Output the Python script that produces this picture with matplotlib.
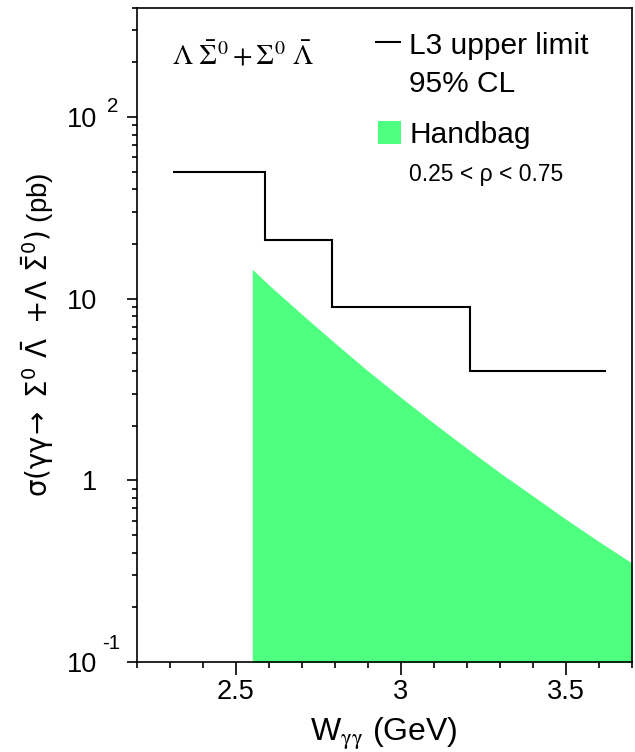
import matplotlib
matplotlib.use("Agg")
import matplotlib.pyplot as plt
import matplotlib.transforms as mtransforms
from matplotlib.patches import Rectangle
from matplotlib.ticker import MultipleLocator, LogLocator, NullFormatter

plt.rcParams["font.family"] = ["Liberation Sans", "DejaVu Sans"]
plt.rcParams["mathtext.fontset"] = "custom"
plt.rcParams["mathtext.rm"] = "Liberation Sans"
plt.rcParams["mathtext.it"] = "Liberation Sans:italic"
plt.rcParams["mathtext.bf"] = "Liberation Sans:bold"

# L3 upper limit (95% CL), bin edges in W and limit per bin in pb
l3_edges = [2.31, 2.59, 2.79, 3.21, 3.62]
l3_limit = [50.0, 21.0, 9.0, 4.0]

# handbag prediction, 0.25 < rho < 0.75
hb_w = [2.55, 2.6, 2.7, 2.8, 2.9, 3.0, 3.1, 3.2, 3.3, 3.4, 3.5, 3.6, 3.7]
hb_sigma = [14.5, 11.9, 8.2, 5.7, 4.0, 2.86, 2.06, 1.50, 1.10, 0.82, 0.61, 0.46, 0.35]

green = "#4eff80"

fig = plt.figure(figsize=(6.35, 7.52), dpi=100)
ax = fig.add_axes([136.7 / 635, 1 - 662 / 752, (632 - 136.7) / 635, (662 - 7.5) / 752])

ax.fill_between(hb_w, 1e-2, hb_sigma, color=green, linewidth=0)
ax.stairs(l3_limit, l3_edges, baseline=None, color="black", linewidth=1.5)

ax.set_yscale("log")
ax.set_xlim(2.2, 3.7)
ax.set_ylim(0.1, 400)

for s in ax.spines.values():
    s.set_linewidth(1.2)

ax.xaxis.set_minor_locator(MultipleLocator(0.1))
ax.set_xticks([2.5, 3.0, 3.5])
ax.set_xticklabels(["2.5", "3", "3.5"])
ax.tick_params(axis="x", which="major", direction="out", length=9, width=1.2,
               labelsize=19.5, pad=3)
ax.tick_params(axis="x", which="minor", direction="out", length=4.5, width=1.2)

ax.set_yticks([0.1, 1, 10, 100])
ax.set_yticklabels(["10", "1", "10", "10"])
ax.yaxis.set_minor_locator(LogLocator(base=10, subs=range(2, 10)))
ax.yaxis.set_minor_formatter(NullFormatter())
ax.tick_params(axis="y", which="major", direction="out", length=7.2, width=1.2,
               labelsize=19.5, pad=21)
ax.tick_params(axis="y", which="minor", direction="out", length=3.6, width=1.2)

# exponents for the 10^2 and 10^-1 labels
ytrans = mtransforms.blended_transform_factory(ax.transAxes, ax.transData)
ax.text(-0.0606, 100, "2", transform=mtransforms.offset_copy(ytrans, fig, x=0, y=4.8, units="dots"),
        fontsize=14.8, ha="left", va="baseline")
ax.text(-0.070, 0.1, "-1", transform=mtransforms.offset_copy(ytrans, fig, x=0, y=13, units="dots"),
        fontsize=14.8, ha="left", va="baseline")

fig.text(384 / 635, 1 - 741 / 752, r"W$_{\mathrm{\gamma\gamma}}$ (GeV)", fontsize=23,
         ha="center", va="baseline", math_fontfamily="stix")
fig.text(38 / 635, 1 - 335 / 752,
         r"$\mathrm{\sigma(\gamma\gamma\!\rightarrow\ \Sigma^0\ \bar{\Lambda}\ +\!\Lambda\ \bar{\Sigma}^0)}$ (pb)",
         fontsize=20, rotation=90, ha="center", va="center", math_fontfamily="dejavusans")

fig.text(171.7 / 635, 1 - 64 / 752, r"$\Lambda\ \bar{\Sigma}^0 + \Sigma^0\ \bar{\Lambda}$",
         fontsize=20.5, ha="left", va="baseline", math_fontfamily="stix")

# legend
fig.add_artist(plt.Line2D([376 / 635, 400 / 635], [1 - 41.7 / 752] * 2,
                          color="black", linewidth=1.5))
fig.text(409 / 635, 1 - 53.5 / 752, "L3 upper limit", fontsize=21.5, va="baseline")
fig.text(409 / 635, 1 - 91.7 / 752, "95% CL", fontsize=21.5, va="baseline")
fig.add_artist(Rectangle((377.7 / 635, 1 - 144 / 752), 23.3 / 635, 23.3 / 752,
                         transform=fig.transFigure, color=green, linewidth=0))
fig.text(409 / 635, 1 - 143.3 / 752, "Handbag", fontsize=21.5, va="baseline")
fig.text(409 / 635, 1 - 180.7 / 752, "0.25 < ρ < 0.75", fontsize=16.5, va="baseline")

fig.savefig("out.png", dpi=100)
